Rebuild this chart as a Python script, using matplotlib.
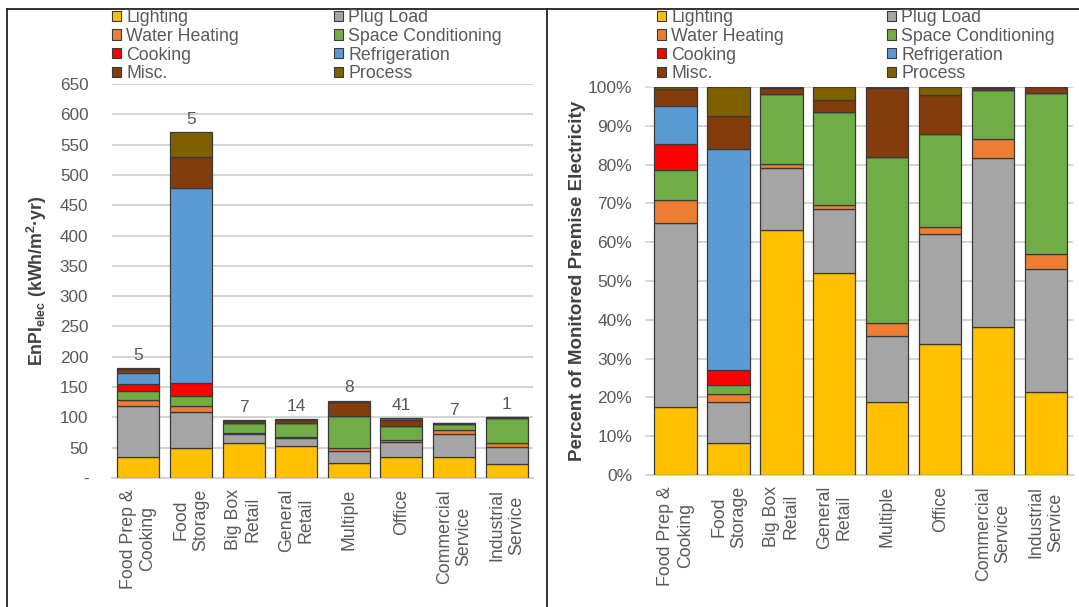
import matplotlib
matplotlib.use("Agg")
import matplotlib.pyplot as plt
from matplotlib.patches import Patch
from matplotlib.lines import Line2D
import numpy as np

plt.rcParams['font.family'] = ['Liberation Sans', 'DejaVu Sans']

# ---------------- data ----------------
categories = ["Food Prep &\nCooking", "Food\nStorage", "Big Box\nRetail", "General\nRetail",
              "Multiple", "Office", "Commercial\nService", "Industrial\nService"]
site_counts = [5, 5, 7, 14, 8, 41, 7, 1]
end_uses = ["Lighting", "Plug Load", "Water Heating", "Space Conditioning",
            "Cooking", "Refrigeration", "Misc.", "Process"]
colors = ["#FFC000", "#A5A5A5", "#ED7D31", "#70AD47",
          "#FF0000", "#5B9BD5", "#843C0C", "#7F6000"]

# EnPI (kWh/m2-yr) by end use
enpi_lighting = [34, 50, 57, 52.5, 25, 34, 35, 22.5]
enpi_plug = [85, 59, 15.5, 14, 20, 26, 38, 29]
enpi_water = [10, 10, 1, 1, 5, 2.5, 6, 5.5]
enpi_space = [15, 16, 18, 23.5, 52, 23.5, 10, 41.5]
enpi_cooking = [11, 22, 0, 0, 0, 0, 0, 0]
enpi_refrig = [18, 322, 0, 0, 0, 0, 0, 0]
enpi_misc = [7, 51, 3, 4, 24, 10, 1.5, 1.5]
enpi_process = [1.5, 41, 1, 2.5, 1.5, 2.5, 0.5, 0]

# Percent of monitored premise electricity by end use
pct_lighting = [17.6, 8.3, 63.1, 52.1, 18.9, 33.7, 38.2, 21.5]
pct_plug = [47.4, 10.6, 15.9, 16.4, 16.9, 28.4, 43.4, 31.5]
pct_water = [5.9, 1.9, 1.1, 1.1, 3.5, 1.9, 4.9, 4.0]
pct_space = [7.7, 2.4, 18.1, 24.0, 42.6, 23.9, 12.7, 41.5]
pct_cooking = [6.7, 3.9, 0, 0, 0, 0, 0, 0]
pct_refrig = [9.8, 56.8, 0, 0, 0, 0, 0, 0]
pct_misc = [4.4, 8.6, 1.5, 3.0, 17.8, 10.0, 0.6, 1.5]
pct_process = [0.5, 7.5, 0.3, 3.4, 0.3, 2.1, 0.2, 0]

enpi_series = [enpi_lighting, enpi_plug, enpi_water, enpi_space,
               enpi_cooking, enpi_refrig, enpi_misc, enpi_process]
pct_series = [pct_lighting, pct_plug, pct_water, pct_space,
              pct_cooking, pct_refrig, pct_misc, pct_process]

# ---------------- figure ----------------
W, H = 1079, 607
fig = plt.figure(figsize=(W / 100, H / 100), dpi=100)
ax1 = fig.add_axes([112 / W, 1 - 478 / H, 421 / W, 394 / H])
ax2 = fig.add_axes([649 / W, 1 - 475 / H, 423.5 / W, 388 / H])

TXT = "#595959"
GRID = "#D4D4D4"
EDGE = "#3A3A3A"
x = np.arange(len(categories))


def stack(ax, series):
    bottom = np.zeros(len(categories))
    for vals, c in zip(series, colors):
        v = np.array(vals, dtype=float)
        ax.bar(x, v, bottom=bottom, width=0.8, color=c, edgecolor=EDGE, linewidth=0.9, zorder=3)
        bottom += v
    return bottom


tot1 = stack(ax1, enpi_series)
stack(ax2, pct_series)

for ax in (ax1, ax2):
    ax.set_xlim(-0.5, len(categories) - 0.5)
    ax.yaxis.grid(True, color=GRID, linewidth=1.4, zorder=0)
    ax.set_axisbelow(True)
    for s in ("left", "right", "top"):
        ax.spines[s].set_visible(False)
    ax.spines["bottom"].set_color(GRID)
    ax.spines["bottom"].set_linewidth(1.4)
    ax.set_xticks(x)
    ax.set_xticklabels(categories, rotation=90, fontsize=12.8, color=TXT,
                       ha="center", va="top", multialignment="center")
    ax.tick_params(axis="x", length=0, pad=8)

# left chart
ax1.set_ylim(0, 650)
yt = list(range(0, 651, 50))
ax1.set_yticks(yt)
ax1.set_yticklabels(["-"] + [str(v) for v in yt[1:]], fontsize=12.3, color=TXT)
ax1.tick_params(axis="y", length=0, pad=17)
ax1.set_ylabel(r"EnPI$_{\mathregular{elec}}$ (kWh/m$^{\mathregular{2}}$·yr)",
               fontsize=12.8, fontweight="bold", color="#404040")
ax1.yaxis.set_label_coords(-63 / 421, 0.5)
for i, (t, n) in enumerate(zip(tot1, site_counts)):
    ax1.annotate(str(n), (i, t), xytext=(0, 6), textcoords="offset points",
                 ha="center", va="baseline", fontsize=12.5, color=TXT)

# right chart
ax2.set_ylim(0, 100)
yt2 = list(range(0, 101, 10))
ax2.set_yticks(yt2)
ax2.set_yticklabels([f"{v}%" for v in yt2], fontsize=12.5, color=TXT)
ax2.tick_params(axis="y", length=3, color=GRID, width=1.2, pad=9)
ax2.set_ylabel("Percent of Monitored Premise Electricity", fontsize=13.5,
               fontweight="bold", color="#404040")
ax2.yaxis.set_label_coords(-63 / 423.5, 0.5)

# legends (two columns per chart, row-wise order)
handles = [Patch(facecolor=c, edgecolor=EDGE, linewidth=0.8) for c in colors]
col1 = [0, 2, 4, 6]
col2 = [1, 3, 5, 7]
leg_kw = dict(frameon=False, fontsize=12.8, labelcolor=TXT, handlelength=0.5,
              handleheight=0.5, handletextpad=0.3, labelspacing=0.1,
              borderpad=0, borderaxespad=0, loc="upper left")
for xpx, idx in ((112, col1), (334, col2), (657, col1), (887, col2)):
    fig.legend([handles[i] for i in idx], [end_uses[i] for i in idx],
               bbox_to_anchor=(xpx / W, 1 - 9 / H), **leg_kw)

# frame lines
fig.add_artist(Line2D([7 / W, 7 / W], [0, 1 - 9 / H], transform=fig.transFigure, color="#222222", lw=1.3))
fig.add_artist(Line2D([7 / W, 1], [1 - 9 / H, 1 - 9 / H], transform=fig.transFigure, color="#222222", lw=1.3))
fig.add_artist(Line2D([547 / W, 547 / W], [0, 1 - 9 / H], transform=fig.transFigure, color="#222222", lw=1.3))

fig.savefig("out.png", dpi=100)
